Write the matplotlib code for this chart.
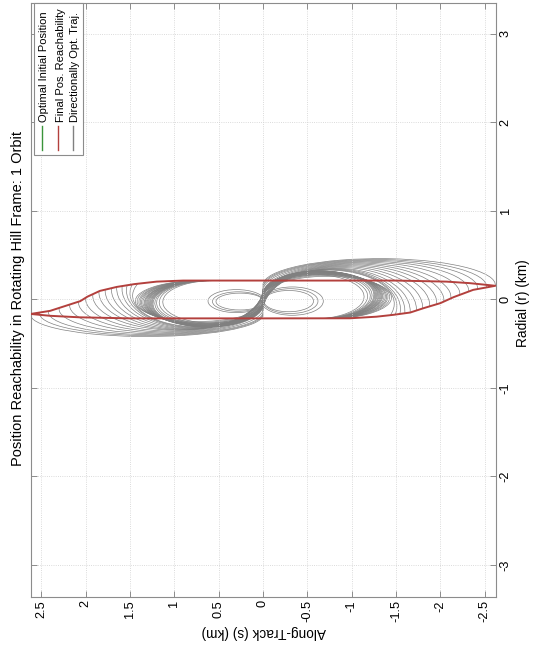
#!/usr/bin/env python
"""Position reachability in the rotating Hill frame after 1 orbit.

The page is drawn turned on its side: along-track runs across
(reversed), radial runs up, and all text is rotated.
"""

import matplotlib
matplotlib.use('Agg')
from matplotlib import pyplot as plt
from matplotlib.patches import Arc, Rectangle, Polygon
from matplotlib.lines import Line2D
from matplotlib.transforms import Bbox, TransformedBbox

plt.rcParams['font.family'] = ['Liberation Sans', 'DejaVu Sans']
plt.rcParams['axes.unicode_minus'] = False

# Final position reachability boundary, along-track s and radial r (km).
bound_s = [2.62, 2.40, 2.06, 1.98, 1.84, 1.65, 1.45, 1.20, 0.90, 0.0,
           -1.50, -2.07, -2.33, -2.62, -2.37, -2.15, -2.00, -1.81, -1.66,
           -1.47, -1.28, -0.98, 0.0, 1.50, 2.07, 2.40, 2.62]
bound_r = [-0.165, -0.13, -0.02, 0.03, 0.095, 0.14, 0.172, 0.200, 0.212,
           0.212, 0.212, 0.200, 0.183, 0.153, 0.107, 0.025, -0.043, -0.100,
           -0.149, -0.175, -0.196, -0.214, -0.215, -0.215, -0.203, -0.186,
           -0.165]

# Optimal initial position (origin of the Hill frame).
init_s = [0.0]
init_r = [0.0]

# Directionally optimal trajectories, left lobe (s > 0): leftmost reach,
# radial level at the reach, lowest radial point, end angle (deg).
left_reach = [2.62, 2.52, 2.42, 2.30, 2.18, 2.08, 2.00, 1.92, 1.85, 1.78,
              1.71, 1.65, 1.59, 1.54, 1.50, 1.47,
              1.44, 1.42, 1.40, 1.385, 1.37, 1.355, 1.34, 1.33, 1.32, 1.31,
              1.30, 1.29, 1.28, 1.27, 1.26, 1.25, 1.24, 1.22, 1.20, 1.17,
              1.13]
left_mid = [-0.175, -0.16, -0.145, -0.11, -0.07, -0.035, 0.005, 0.045,
            0.08, 0.10, 0.115, 0.125, 0.12, 0.10, 0.07, 0.04,
            -0.02, -0.025, -0.03, -0.03, -0.035, -0.035, -0.04, -0.04,
            -0.04, -0.045, -0.045, -0.045, -0.05, -0.05, -0.05, -0.05,
            -0.05, -0.045, -0.04, -0.035, -0.03]
left_low = [-0.42, -0.41, -0.40, -0.39, -0.38, -0.37, -0.36, -0.35, -0.345,
            -0.34, -0.335, -0.33, -0.325, -0.32, -0.315, -0.31,
            -0.25, -0.26, -0.27, -0.27, -0.28, -0.28, -0.29, -0.29, -0.29,
            -0.30, -0.30, -0.30, -0.31, -0.31, -0.31, -0.31, -0.31, -0.30,
            -0.29, -0.28, -0.27]
left_end = [362, 362, 364, 364, 366, 366, 368, 368, 370, 372, 374, 376,
            380, 386, 394, 404,
            430, 430, 432, 432, 434, 434, 436, 436, 436, 438, 438, 438,
            440, 440, 440, 440, 440, 442, 442, 444, 446]

# Right lobe (s < 0): rightmost reach, radial level at the reach,
# highest radial point, end angle (deg).
right_reach = [2.62, 2.52, 2.42, 2.32, 2.22, 2.12, 2.04, 1.96, 1.88, 1.80,
               1.73, 1.66, 1.60, 1.55, 1.51, 1.48,
               1.45, 1.43, 1.41, 1.395, 1.38, 1.365, 1.35, 1.34, 1.33,
               1.32, 1.31, 1.30, 1.29, 1.28, 1.27, 1.26, 1.25, 1.23, 1.21,
               1.18, 1.14]
right_mid = [0.163, 0.145, 0.126, 0.098, 0.06, 0.02, -0.015, -0.045,
             -0.07, -0.093, -0.115, -0.135, -0.13, -0.11, -0.08, -0.05,
             0.02, 0.025, 0.03, 0.03, 0.035, 0.035, 0.04, 0.04, 0.04, 0.045,
             0.045, 0.045, 0.05, 0.05, 0.05, 0.05, 0.05, 0.045, 0.04,
             0.035, 0.03]
right_high = [0.46, 0.45, 0.44, 0.43, 0.42, 0.41, 0.40, 0.39, 0.38, 0.37,
              0.36, 0.35, 0.345, 0.34, 0.335, 0.33,
              0.26, 0.27, 0.28, 0.28, 0.29, 0.29, 0.30, 0.30, 0.30, 0.31,
              0.31, 0.31, 0.32, 0.32, 0.32, 0.32, 0.32, 0.31, 0.30, 0.29,
              0.28]
right_end = [182, 182, 184, 184, 186, 186, 188, 188, 190, 192, 194, 196,
             200, 206, 214, 224,
             250, 250, 252, 252, 254, 254, 256, 256, 256, 258, 258, 258,
             260, 260, 260, 260, 260, 262, 262, 264, 266]

# Small closed loops near the origin: centre s, centre r, width, height.
loop_s = [0.30, 0.28, 0.26, -0.33, -0.31, -0.29]
loop_r = [-0.02, -0.025, -0.025, -0.02, -0.02, -0.02]
loop_w = [0.64, 0.58, 0.54, 0.70, 0.62, 0.56]
loop_h = [0.26, 0.22, 0.19, 0.32, 0.28, 0.24]

# Axis ticks.
s_ticks = [2.5, 2, 1.5, 1, 0.5, 0, -0.5, -1, -1.5, -2, -2.5]
s_labels = ['2.5', '2', '1.5', '1', '0.5', '0', '-0.5', '-1', '-1.5', '-2',
            '-2.5']
r_ticks = [-3, -2, -1, 0, 1, 2, 3]
r_labels = ['-3', '-2', '-1', '0', '1', '2', '3']

W, H = 539, 655
gray = '#808080'
red = '#b3403d'
green = '#3a943a'
edge = '#8c8c8c'

fig = plt.figure(figsize=(W / 100, H / 100), dpi=100)
ax = fig.add_axes([31 / W, 1 - 597.3 / H, (495.7 - 31) / W, (597.3 - 2.7) / H])

# Trajectories stop on the reachability boundary: the left lobe stays
# under its upper edge, the right lobe above its lower edge.
left_clip = Polygon(list(zip(bound_s[:11], bound_r[:11]))
                    + [(-1.5, -1.0), (2.8, -1.0), (2.8, bound_r[0])],
                    closed=True, transform=ax.transData)
right_clip = Polygon(list(zip(bound_s[13:24], bound_r[13:24]))
                     + [(1.5, 1.0), (-2.8, 1.0), (-2.8, bound_r[13])],
                     closed=True, transform=ax.transData)

for L, rc, rl, th in zip(left_reach, left_mid, left_low, left_end):
  a = Arc((L / 2, rc), L, 2 * (rc - rl), theta1=180, theta2=th,
          color=gray, lw=0.5)
  ax.add_patch(a)
  a.set_clip_path(left_clip)
for L, rc, rh, th in zip(right_reach, right_mid, right_high, right_end):
  a = Arc((-L / 2, rc), L, 2 * (rh - rc), theta1=0, theta2=th,
          color=gray, lw=0.5)
  ax.add_patch(a)
  a.set_clip_path(right_clip)
for cs, cr, w, h in zip(loop_s, loop_r, loop_w, loop_h):
  ax.add_patch(Arc((cs, cr), w, h, theta1=0, theta2=360, color=gray, lw=0.5))

ax.plot(init_s, init_r, color=green, lw=1.0)
ax.plot(bound_s, bound_r, color=red, lw=1.4, zorder=5)

ax.set_xlim(2.616, -2.624)
ax.set_ylim(-3.365, 3.35)
ax.set_xticks(s_ticks)
ax.set_xticklabels(s_labels, rotation=90)
ax.set_yticks(r_ticks)
ax.set_yticklabels(r_labels, rotation=90, va='center')
ax.tick_params(axis='x', direction='in', top=True, bottom=True, length=4.3,
               width=0.7, color=edge, pad=2, labelsize=9.2)
ax.tick_params(axis='y', direction='in', left=True, right=True,
               labelleft=False, labelright=True, length=4.3, width=0.7,
               color=edge, pad=3, labelsize=9.2)
ax.grid(True, ls=':', lw=0.6, color='#cfcfcf')
for sp in ax.spines.values():
  sp.set_color(edge)
  sp.set_linewidth(0.8)

# Rotated title and axis labels.
fig.text(18 / W, 1 - 298 / H,
         'Position Reachability in Rotating Hill Frame: 1 Orbit',
         rotation=90, ha='center', va='center', fontsize=10.5)
fig.text(523 / W, 1 - 303 / H, 'Radial (r) (km)', rotation=90,
         ha='center', va='center', fontsize=9.8)
fig.text(264 / W, 1 - 632 / H, 'Along-Track (s) (km)', rotation=180,
         ha='center', va='center', fontsize=9.8)

# Legend, turned with the page.
x0, x1, y0, y1 = 34.3, 82.7, 3.3, 155
box = Rectangle((x0 / W, 1 - y1 / H), (x1 - x0) / W, (y1 - y0) / H,
                transform=fig.transFigure, facecolor='white',
                edgecolor=edge, lw=0.8, zorder=3)
fig.patches.append(box)
names = ['Optimal Initial Position', 'Final Pos. Reachability',
         'Directionally Opt. Traj.']
colors = [green, red, gray]
line_x = [41.7, 58.3, 72.7]
clip_top = [12.5, y0 + 1, y0 + 1]
for name, c, lx, ct in zip(names, colors, line_x, clip_top):
  fig.lines.append(Line2D([lx / W, lx / W], [1 - 150 / H, 1 - 126 / H],
                          transform=fig.transFigure, color=c, lw=1.0,
                          zorder=4))
  t = fig.text((lx + 2.5) / W, 1 - 121.5 / H, name, rotation=90,
               rotation_mode='anchor', ha='left', va='center', fontsize=8,
               zorder=4)
  t.set_clip_box(TransformedBbox(
      Bbox.from_extents(x0 / W, 1 - y1 / H, x1 / W, 1 - ct / H),
      fig.transFigure))
  t.set_clip_on(True)

fig.savefig('out.png', dpi=100)
